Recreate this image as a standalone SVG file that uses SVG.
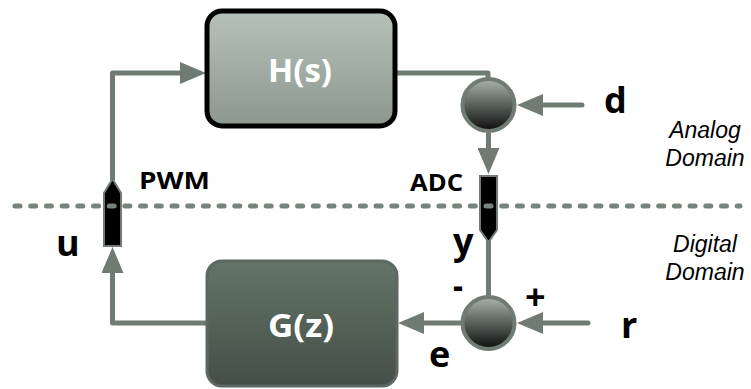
<svg xmlns="http://www.w3.org/2000/svg" width="751" height="389" viewBox="0 0 751 389">
<defs>
<linearGradient id="gH" x1="0" y1="0" x2="0" y2="1"><stop offset="0" stop-color="#b5c1b9"/><stop offset="1" stop-color="#8c988f"/></linearGradient>
<linearGradient id="gG" x1="0" y1="0" x2="0" y2="1"><stop offset="0" stop-color="#647469"/><stop offset="1" stop-color="#444f47"/></linearGradient>
<linearGradient id="gC" x1="0" y1="0" x2="0" y2="1"><stop offset="0" stop-color="#aab3ad"/><stop offset="0.5" stop-color="#5a605c"/><stop offset="1" stop-color="#0c0c0c"/></linearGradient>
<marker id="arr" markerUnits="userSpaceOnUse" markerWidth="27" markerHeight="22" refX="0" refY="11" orient="auto" viewBox="0 0 27 22"><path d="M0,0 L26,11 L0,22 z" fill="#6f7b73"/></marker>
</defs>
<style>
.c{fill:none;stroke:#6f7b73;stroke-width:5;stroke-linejoin:round}
.conv{fill:#000;stroke:#6f7b73;stroke-width:2}
.sum{fill:url(#gC);stroke:#6f7b73;stroke-width:4}
.bt{font-family:"Open Sans",sans-serif;font-weight:bold;fill:#fff;font-size:32px;text-anchor:middle}
.lb{font-family:"Open Sans",sans-serif;font-weight:bold;fill:#000;font-size:36px}
.sm{font-family:"Open Sans",sans-serif;font-weight:bold;fill:#000;font-size:24px}
.it{font-family:"Liberation Sans",Arial,sans-serif;font-style:italic;fill:#000;font-size:23px;text-anchor:middle}
</style>
<g id="connectors">
<path class="c" d="M112.5,180 V73 H180" marker-end="url(#arr)"/>
<path class="c" d="M395,73 H488 V80"/>
<path class="c" d="M582,105 H543" stroke-linecap="round" marker-end="url(#arr)"/>
<path class="c" d="M488.5,133 V148" marker-end="url(#arr)"/>
<path class="c" d="M488.5,240 V297"/>
<path class="c" d="M588,323 H543" stroke-linecap="round" marker-end="url(#arr)"/>
<path class="c" d="M462,323 H424" marker-end="url(#arr)"/>
<path class="c" d="M208,323 H112.5 V273" marker-end="url(#arr)"/>
</g>
<g id="H">
<rect x="207" y="11" width="188" height="115" rx="15" fill="url(#gH)" stroke="#000" stroke-width="5"/>
<text class="bt" x="300" y="82" textLength="64" lengthAdjust="spacingAndGlyphs">H(s)</text>
</g>
<g id="G">
<rect x="207" y="261" width="190" height="125" rx="15" fill="url(#gG)" stroke="#5d6862" stroke-width="3"/>
<text class="bt" x="301" y="337" textLength="66" lengthAdjust="spacingAndGlyphs">G(z)</text>
</g>
<g id="sum1"><circle class="sum" cx="488.5" cy="105" r="26"/></g>
<g id="sum2"><circle class="sum" cx="488.5" cy="323" r="26"/></g>
<g id="ADC"><polygon class="conv" points="480,176 497,176 497,230 488.5,242 480,230"/>
<text class="sm" x="410" y="191" textLength="53" lengthAdjust="spacingAndGlyphs">ADC</text></g>
<g id="PWM"><polygon class="conv" points="104,246 121,246 121,193 112.5,179 104,193"/>
<text class="sm" x="139" y="189" textLength="71" lengthAdjust="spacingAndGlyphs">PWM</text></g>
<g id="domain-line"><line x1="15" y1="206" x2="740" y2="206" stroke="#76847b" stroke-width="5" stroke-linecap="round" stroke-dasharray="5 10.7"/></g>
<g id="labels">
<text class="lb" x="604" y="113">d</text>
<text class="lb" x="621" y="338">r</text>
<text class="lb" x="56" y="256">u</text>
<text class="lb" x="453" y="254" font-size="34">y</text>
<text class="lb" x="429" y="367">e</text>
<text class="lb" x="453" y="298" font-size="22" textLength="10" lengthAdjust="spacingAndGlyphs">-</text>
<text class="lb" x="525" y="310" font-size="30">+</text>
<text class="it" x="705" y="138">Analog</text>
<text class="it" x="705" y="166">Domain</text>
<text class="it" x="705" y="252">Digital</text>
<text class="it" x="705" y="280">Domain</text>
</g>
</svg>
